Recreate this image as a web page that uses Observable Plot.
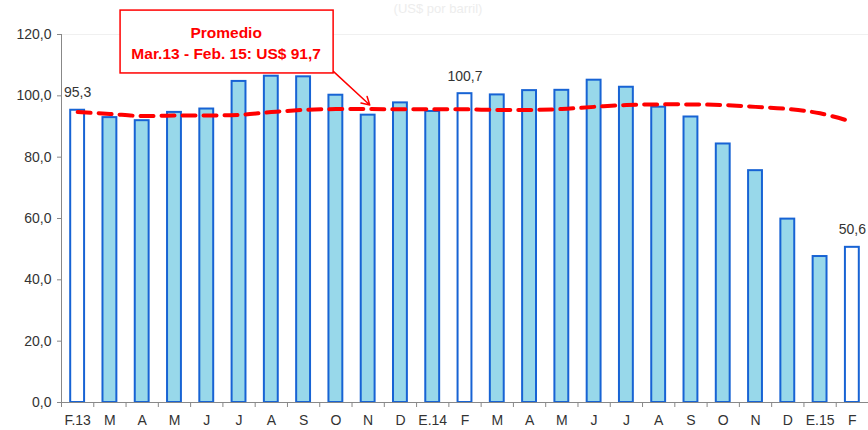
<!DOCTYPE html>
<html>
<head>
<meta charset="utf-8">
<script src="https://cdn.jsdelivr.net/npm/d3@7"></script>
<script src="https://cdn.jsdelivr.net/npm/@observablehq/plot@0.6"></script>
<style>
  body { margin: 0; background: #fff; }
  #wrap { position: relative; width: 868px; height: 430px; overflow: hidden; font-family: "Liberation Sans", Arial, sans-serif; }
  #ghost { position: absolute; top: 1px; left: 0; width: 876px; text-align: center; font-size: 13px; line-height: 15px; color: #ededed; }
  #chart { position: absolute; top: 0; left: 0; }
</style>
</head>
<body>
<div id="wrap">
  <div id="chart"></div>
  <div id="ghost">(US$ por barril)</div>
</div>
<script>
// Month labels (Feb 2013 – Feb 2015)
const labels = ["F.13","M","A","M","J","J","A","S","O","N","D","E.14","F","M","A","M","J","J","A","S","O","N","D","E.15","F"];
// Monthly price (US$ per barrel)
const values = [95.3,92.9,91.9,94.6,95.7,104.7,106.4,106.2,100.2,93.7,97.7,94.9,100.7,100.3,101.7,101.8,105.1,102.8,96.3,93.1,84.3,75.6,59.8,47.6,50.6];
// Red dashed trend (average)
const average = [94.7,94.1,93.4,93.6,93.6,93.8,94.7,95.4,95.7,95.7,95.6,95.6,95.6,95.4,95.4,95.7,96.4,97.0,97.2,97.2,97.0,96.4,95.7,94.3,91.5];
// February bars drawn white and labelled
const februaryIdx = [0, 12, 24];
const yTicks = [0, 20, 40, 60, 80, 100, 120];
const noteText = "Promedio\nMar.13 - Feb. 15: US$ 91,7";

const data = labels.map((l, i) => ({i, label: l, value: values[i], avg: average[i], feb: februaryIdx.includes(i)}));
const boundaries = d3.range(-0.5, labels.length, 1);

const fmt = d => d.toFixed(1).replace(".", ",");
const blue = "#1763d4";
const red = "#ff0000";
const half = 0.215;

// annotation placement (data coordinates)
const note = {x1: 1.33, x2: 7.93, y1: 107.3, y2: 127.8, tx: 4.6, ty: 117.6,
              ax1: 7.93, ay1: 107.9, ax2: 9.05, ay2: 97.0};

const chart = Plot.plot({
  width: 868,
  height: 430,
  marginLeft: 61,
  marginRight: 0,
  marginTop: 34,
  marginBottom: 28,
  style: {fontFamily: "'Liberation Sans', Arial, sans-serif", fontSize: "14px", color: "#333", background: "transparent"},
  x: {type: "linear", domain: [-0.5, labels.length - 0.5]},
  y: {domain: [0, 120]},
  marks: [
    Plot.ruleY([120], {stroke: "#f0f0f0", strokeWidth: 1}),
    Plot.rectY(data, {
      x1: d => d.i - half, x2: d => d.i + half, y1: 0, y2: "value",
      fill: d => d.feb ? "#ffffff" : "#98d8ea",
      stroke: blue, strokeWidth: 2
    }),
    Plot.ruleX([-0.5], {y1: 0, y2: 120, stroke: "#888", strokeWidth: 1}),
    Plot.ruleY([0], {stroke: "#888", strokeWidth: 1}),
    Plot.axisY({ticks: yTicks, tickFormat: fmt, tickSize: 4, tickPadding: 6, stroke: "#888", fill: "#333", label: null, fontSize: 14}),
    Plot.axisX({ticks: boundaries, tickFormat: () => "", tickSize: 5, stroke: "#888", label: null}),
    Plot.axisX({ticks: d3.range(labels.length), tickFormat: i => labels[i], tickSize: 0, tickPadding: 13, fill: "#333", label: null, fontSize: 14}),
    Plot.line(data, {x: "i", y: "avg", curve: "catmull-rom", stroke: red, strokeWidth: 4, strokeDasharray: "13,8"}),
    Plot.text(data.filter(d => d.feb), {x: "i", y: "value", text: d => fmt(d.value), dy: -13, lineAnchor: "bottom", fill: "#333", fontSize: 14}),
    Plot.rect([note], {x1: "x1", x2: "x2", y1: "y1", y2: "y2", fill: "white", stroke: red, strokeWidth: 1.5}),
    Plot.text([note], {x: "tx", y: "ty", text: () => noteText, fill: red, fontWeight: "bold", fontSize: 15.5, lineHeight: 1.36}),
    Plot.arrow([note], {x1: "ax1", y1: "ay1", x2: "ax2", y2: "ay2", stroke: red, strokeWidth: 1.5, headLength: 9})
  ]
});
document.getElementById("chart").appendChild(chart);
</script>
</body>
</html>
